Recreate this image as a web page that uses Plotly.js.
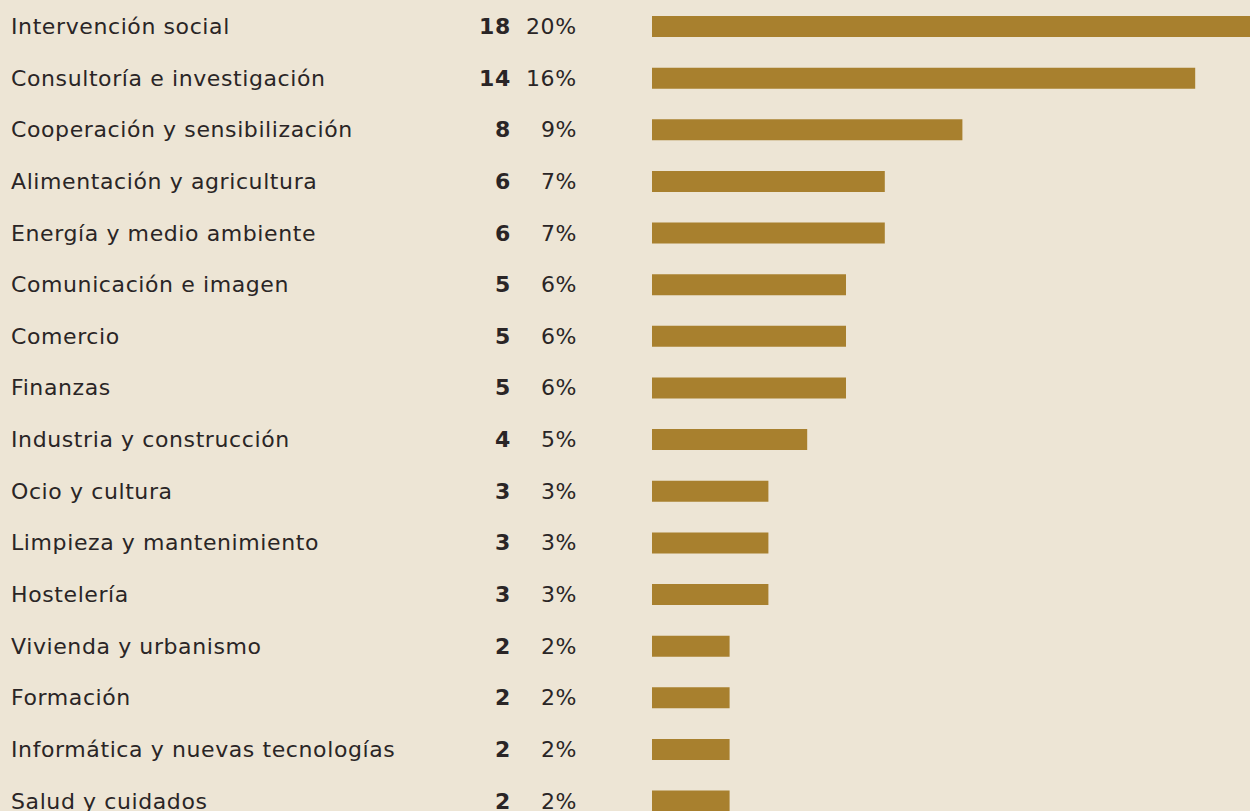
<!DOCTYPE html>
<html>
<head>
<meta charset="utf-8">
<script src="https://cdn.plot.ly/plotly-3.0.1.min.js"></script>
<style>
html,body{margin:0;padding:0;background:#EDE5D5;}
#chart{width:1250px;height:811px;}
.annotation-text{letter-spacing:0.6px;}
</style>
</head>
<body>
<div id="chart"></div>
<script>
const categories = [
  "Intervención social",
  "Consultoría e investigación",
  "Cooperación y sensibilización",
  "Alimentación y agricultura",
  "Energía y medio ambiente",
  "Comunicación e imagen",
  "Comercio",
  "Finanzas",
  "Industria y construcción",
  "Ocio y cultura",
  "Limpieza y mantenimiento",
  "Hostelería",
  "Vivienda y urbanismo",
  "Formación",
  "Informática y nuevas tecnologías",
  "Salud y cuidados"
];
const counts = [18, 14, 8, 6, 6, 5, 5, 5, 4, 3, 3, 3, 2, 2, 2, 2];
const percents = ["20%", "16%", "9%", "7%", "7%", "6%", "6%", "6%", "5%", "3%", "3%", "3%", "2%", "2%", "2%", "2%"];

const textColor = "#2A2526";
const fontFamily = "DejaVu Sans, Noto Sans, sans-serif";
const fontSize = 22;
const W = 1250, H = 811;
const plotLeft = 652;
const pxPerUnit = 38.8;
const rowTop = 26.5, rowStep = 51.64;

const annotations = [];
categories.forEach((c, i) => {
  annotations.push({xref: "paper", yref: "y", x: 9 / W, y: c, text: c, showarrow: false,
    xanchor: "left", yanchor: "middle", font: {family: fontFamily, size: fontSize, color: textColor}});
  annotations.push({xref: "paper", yref: "y", x: 513 / W, y: c, text: "<b>" + counts[i] + "</b>", showarrow: false,
    xanchor: "right", yanchor: "middle", font: {family: fontFamily, size: fontSize, color: textColor}});
  annotations.push({xref: "paper", yref: "y", x: 579 / W, y: c, text: percents[i], showarrow: false,
    xanchor: "right", yanchor: "middle", font: {family: fontFamily, size: fontSize, color: textColor}});
});

const yMin = -rowTop / rowStep;
const yMax = (H - rowTop) / rowStep;

Plotly.newPlot("chart", [{
  type: "bar",
  orientation: "h",
  y: categories,
  x: counts,
  width: 21 / rowStep,
  marker: {color: "#A8802E"},
  hoverinfo: "skip"
}], {
  width: W, height: H,
  margin: {l: 0, r: 0, t: 0, b: 0, pad: 0},
  paper_bgcolor: "#EDE5D5",
  plot_bgcolor: "#EDE5D5",
  showlegend: false,
  xaxis: {domain: [plotLeft / W, 1], range: [0, (W - plotLeft) / pxPerUnit], visible: false, fixedrange: true},
  yaxis: {type: "category", range: [yMax, yMin], visible: false, fixedrange: true},
  annotations: annotations
}, {displayModeBar: false, staticPlot: true});
</script>
</body>
</html>
